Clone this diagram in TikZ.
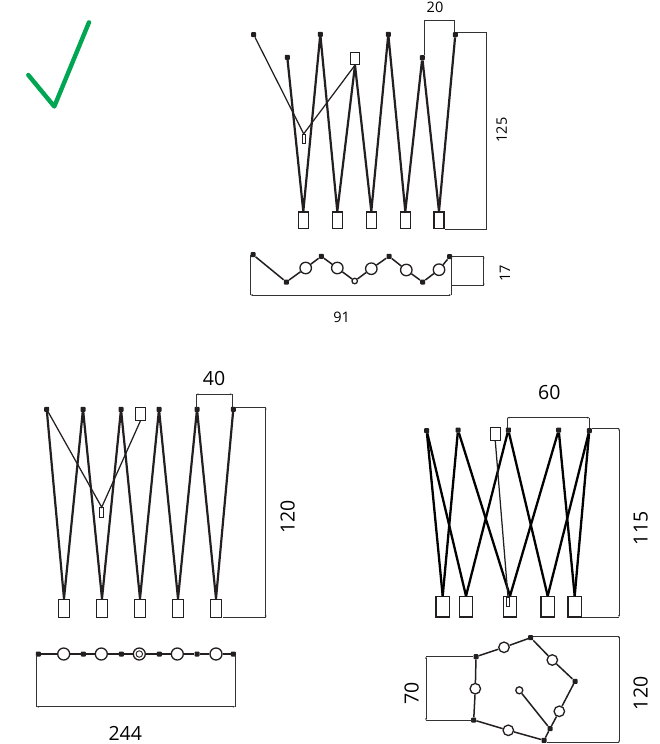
\documentclass[tikz,border=0pt]{standalone}
\usepackage{fontspec}
\setmainfont{Open Sans}
\usetikzlibrary{arrows.meta}
\definecolor{ink}{HTML}{231F20}
\definecolor{tick}{HTML}{00A651}
\definecolor{dimc}{HTML}{333333}
\tikzset{
  joint/.style={draw=none,fill=ink,minimum size=5pt,inner sep=0pt,rounded corners=0.8pt},
  boxn/.style={draw=ink,fill=white,line width=1.3pt,inner sep=0pt,minimum width=#1},
  boxn/.default=10pt,
  ring/.style={circle,draw=ink,fill=white,line width=1.3pt,inner sep=0pt,minimum size=#1},
  ring/.default=11.5pt,
  armA/.style={ink,line width=2.2pt,line join=round},
  armB/.style={line width=2.3pt,black},
  arm/.style={ink,line width=1.5pt},
  thin/.style={ink,line width=1.25pt},
  dimline/.style={dimc,line width=0.7pt},
  dimtip/.style={dimc,line width=0.7pt,{Stealth[length=2.2pt,width=1.8pt]}-{Stealth[length=2.2pt,width=1.8pt]}},
  small/.style={font=\fontsize{14.5}{16}\selectfont,text=black,inner sep=0pt},
  large/.style={font=\fontsize{19.5}{22}\selectfont,text=black,inner sep=0pt}
}
\begin{document}
\begin{tikzpicture}[x=1pt,y=-1pt]
\useasboundingbox (0,0) rectangle (659,744);
% check mark
\coordinate (ck1) at (28.3,75);
\coordinate (ck2) at (54.3,106.5);
\coordinate (ck3) at (89,22.3);
\draw[tick,line width=4.4pt,line cap=round,line join=round] (ck1) -- (ck2) -- (ck3);

% ===== top figure, elevation
\node[joint] (a0) at (253.7,34.7) {};
\node[joint] (a1) at (287.3,57.3) {};
\node[joint] (a3) at (320.3,34.3) {};
\node[boxn=9.5pt,minimum height=12pt] (a5) at (355,58.5) {};
\node[joint] (a7) at (388.3,34.3) {};
\node[joint] (a9) at (422.3,57.7) {};
\node[joint] (a11) at (455.3,34.7) {};
\node[boxn=10pt,minimum height=16.6pt] (a2) at (303.3,220.4) {};
\node[boxn=10pt,minimum height=16.6pt] (a4) at (337.3,220.4) {};
\node[boxn=10pt,minimum height=16.6pt] (a6) at (371.3,220.4) {};
\node[boxn=10pt,minimum height=16.6pt] (a8) at (405.3,220.4) {};
\node[boxn=10pt,minimum height=16.6pt] (a10) at (439,220.4) {};
\node[draw=ink,fill=white,line width=0.9pt,inner sep=0pt,minimum width=3.4pt,minimum height=9.5pt] (as) at (303.7,139) {};
\draw[armA] (a1) -- (a2.north) -- (a3) -- (a4.north) -- (a5.south) -- (a6.north) -- (a7) -- (a8.north) -- (a9) -- (a10.north) -- (a11);
\draw[thin] (a0) -- (as.north) -- (a5.south);
% dims
\coordinate (d20a) at (424,55); \coordinate (d20b) at (424,20);
\coordinate (d20c) at (454.3,20); \coordinate (d20d) at (454.3,32);
\draw[dimline] (d20a) -- (d20b) -- (d20c) -- (d20d);
\node[small] (t20) at (435,7.3) {20};
\coordinate (d125a) at (457,32.3); \coordinate (d125b) at (486,32.3);
\coordinate (d125c) at (486,229.3); \coordinate (d125d) at (445,229.3);
\draw[dimline] (d125a) -- (d125b) -- (d125c) -- (d125d);
\node[small,rotate=90] (t125) at (501.7,130) {125};

% ===== top figure, plan
\node[joint] (p0) at (253,254.7) {};
\node[joint] (p1) at (286.3,282) {};
\node[ring] (p2) at (305.7,268) {};
\node[joint] (p3) at (321.3,256.3) {};
\node[ring] (p4) at (337.3,268) {};
\node[ring=5.5pt] (p5) at (354.7,281) {};
\node[ring] (p6) at (371.3,268.7) {};
\node[joint] (p7) at (389,256.3) {};
\node[ring] (p8) at (406.3,270) {};
\node[joint] (p9) at (422.7,282) {};
\node[ring] (p10) at (439,269.7) {};
\node[joint] (p11) at (449.7,256.7) {};
\draw[arm] (p0) -- (p1) -- (p2) -- (p3) -- (p4) -- (p5) -- (p6) -- (p7) -- (p8) -- (p9) -- (p10) -- (p11);
\coordinate (d91a) at (250.7,255); \coordinate (d91b) at (250.7,295);
\coordinate (d91c) at (451,295); \coordinate (d91d) at (451,257);
\draw[dimline] (d91a) -- (d91b) (d91c) -- (d91d);
\draw[dimtip] (d91b) -- (d91c);
\node[small] (t91) at (341.7,317.3) {91};
\coordinate (d17a) at (451.7,256.3); \coordinate (d17b) at (483.7,256.3);
\coordinate (d17c) at (483.7,285.7); \coordinate (d17d) at (451.7,285.7);
\draw[dimline] (d17a) -- (d17b) (d17c) -- (d17d);
\draw[dimtip] (d17b) -- (d17c);
\node[small,rotate=90] (t17) at (505,273) {17};

% ===== left figure, elevation
\node[joint] (b0) at (46.7,409.3) {};
\node[joint] (b2) at (83,409.3) {};
\node[joint] (b4) at (121,409.3) {};
\node[boxn=10pt,minimum height=13pt] (bb) at (140.3,414) {};
\node[joint] (b6) at (159,409.3) {};
\node[joint] (b8) at (197,409.3) {};
\node[joint] (b10) at (233.3,409.3) {};
\node[boxn=11pt,minimum height=18.4pt] (b1) at (64,608.5) {};
\node[boxn=11pt,minimum height=18.4pt] (b3) at (102,608.5) {};
\node[boxn=11pt,minimum height=18.4pt] (b5) at (140,608.5) {};
\node[boxn=11pt,minimum height=18.4pt] (b7) at (178,608.5) {};
\node[boxn=11pt,minimum height=18.4pt] (b9) at (216,608.5) {};
\node[draw=ink,fill=white,line width=0.9pt,inner sep=0pt,minimum width=4.4pt,minimum height=10pt] (bs) at (101.7,512.7) {};
\draw[armA] (b0) -- (b1.north) -- (b2) -- (b3.north) -- (b4) -- (b5.north) -- (b6) -- (b7.north) -- (b8) -- (b9.north) -- (b10);
\draw[thin] (b0) -- (bs.north) -- (bb.south);
\coordinate (d40a) at (196.3,408); \coordinate (d40b) at (196.3,394.3);
\coordinate (d40c) at (232.3,394.3); \coordinate (d40d) at (232.3,407);
\draw[dimline] (d40a) -- (d40b) (d40c) -- (d40d);
\draw[dimtip] (d40b) -- (d40c);
\node[large] (t40) at (214,379) {40};
\coordinate (d120a) at (235,407.3); \coordinate (d120b) at (265.7,407.3);
\coordinate (d120c) at (265.7,617.7); \coordinate (d120d) at (223.3,617.7);
\draw[dimline] (d120a) -- (d120b) (d120c) -- (d120d);
\draw[dimtip] (d120b) -- (d120c);
\node[large,rotate=90] (t120) at (287.7,516.7) {120};

% ===== left figure, plan
\node[joint] (q0) at (38.3,654) {};
\node[ring=12pt] (q1) at (63.7,654) {};
\node[joint] (q2) at (83.3,654) {};
\node[ring=12pt] (q3) at (101.3,654) {};
\node[joint] (q4) at (121.3,654) {};
\node[ring=12pt] (q5) at (139.3,654) {};
\node[ring=6.5pt,line width=0.9pt] (q5i) at (139.3,654) {};
\node[joint] (q6) at (159.3,654) {};
\node[ring=12pt] (q7) at (177.3,654) {};
\node[joint] (q8) at (197,654) {};
\node[ring=12pt] (q9) at (216,654) {};
\node[joint] (q10) at (233.3,654) {};
\draw[arm] (q0) -- (q1) -- (q2) -- (q3) -- (q4) -- (q5) -- (q6) -- (q7) -- (q8) -- (q9) -- (q10);
\coordinate (d244a) at (36.7,655); \coordinate (d244b) at (36.7,706.7);
\coordinate (d244c) at (235,706.7); \coordinate (d244d) at (235,655);
\draw[dimline] (d244a) -- (d244b) (d244c) -- (d244d);
\draw[dimtip] (d244b) -- (d244c);
\node[large] (t244) at (125.3,733.2) {244};

% ===== right figure, elevation
\node[joint] (c0) at (426.7,430.7) {};
\node[joint] (c1) at (458,430) {};
\node[boxn=10pt,minimum height=12.7pt] (cb) at (495.3,434) {};
\node[joint] (c2) at (508.3,430) {};
\node[joint] (c3) at (558.7,430) {};
\node[joint] (c4) at (589.3,430.7) {};
\node[boxn=13.5pt,minimum height=20.3pt] (f0) at (442.7,606.8) {};
\node[boxn=13.5pt,minimum height=20.3pt] (f1) at (466,606.8) {};
\node[boxn=13.5pt,minimum height=20.3pt] (f2) at (510,606.8) {};
\node[boxn=13.5pt,minimum height=20.3pt] (f3) at (547.7,606.8) {};
\node[boxn=13.5pt,minimum height=20.3pt] (f4) at (574.7,606.8) {};
\node[draw=ink,fill=white,line width=0.9pt,inner sep=0pt,minimum width=3.4pt,minimum height=8.5pt] (cs) at (508,601.7) {};
\draw[armB] (c0) -- (f0.north);
\draw[armB] (c0) -- (f1.north);
\draw[armB] (c1) -- (f0.north);
\draw[armB] (c1) -- (f2.north);
\draw[armB] (c2) -- (f1.north);
\draw[armB] (c2) -- (f3.north);
\draw[armB] (c3) -- (f2.north);
\draw[armB] (c3) -- (f4.north);
\draw[armB] (c4) -- (f3.north);
\draw[armB] (c4) -- (f4.north);
\draw[thin] (cb.south) -- (cs.north);
\coordinate (d60a) at (507.3,428); \coordinate (d60b) at (507.3,417.7);
\coordinate (d60c) at (589.3,417.7); \coordinate (d60d) at (589.3,428);
\draw[dimline] (d60a) -- (d60b) (d60c) -- (d60d);
\draw[dimtip] (d60b) -- (d60c);
\node[large] (t60) at (549.3,392.8) {60};
\coordinate (d115a) at (591.7,428.3); \coordinate (d115b) at (619,428.3);
\coordinate (d115c) at (619,617); \coordinate (d115d) at (581.7,617);
\draw[dimline] (d115a) -- (d115b) (d115c) -- (d115d);
\draw[dimtip] (d115b) -- (d115c);
\node[large,rotate=90] (t115) at (640.7,528.3) {115};

% ===== right figure, plan
\node[joint] (r0) at (476,656.7) {};
\node[ring=10.5pt] (r1) at (504,647.3) {};
\node[joint] (r2) at (530.7,637.7) {};
\node[ring=10.5pt] (r3) at (552.3,660) {};
\node[joint] (r4) at (575,681.3) {};
\node[ring=10.5pt] (r5) at (559.3,711.3) {};
\node[joint] (r6) at (550,728.7) {};
\node[joint] (r7) at (544,740.3) {};
\node[ring=10.5pt] (r8) at (508.3,730.3) {};
\node[joint] (r9) at (473.7,720) {};
\node[ring=10.5pt] (r10) at (475.3,688.7) {};
\node[ring=7pt] (r11) at (519.3,690.3) {};
\draw[arm] (r0) -- (r1) -- (r2) -- (r3) -- (r4) -- (r5) -- (r6) -- (r7) -- (r8) -- (r9) -- (r10) -- (r0);
\draw[arm] (r6) -- (r11);
\coordinate (d70a) at (473.3,656.7); \coordinate (d70b) at (426,656.7);
\coordinate (d70c) at (426,720.3); \coordinate (d70d) at (473.3,720.3);
\draw[dimline] (d70a) -- (d70b) (d70c) -- (d70d);
\draw[dimtip] (d70b) -- (d70c);
\node[large,rotate=90] (t70) at (411.7,693.3) {70};
\coordinate (d120e) at (533,636); \coordinate (d120f) at (619,636);
\coordinate (d120g) at (619,742.7); \coordinate (d120h) at (546.7,742.7);
\draw[dimline] (d120e) -- (d120f) (d120g) -- (d120h);
\draw[dimtip] (d120f) -- (d120g);
\node[large,rotate=90] (t120b) at (640.7,693.3) {120};
\end{tikzpicture}
\end{document}
